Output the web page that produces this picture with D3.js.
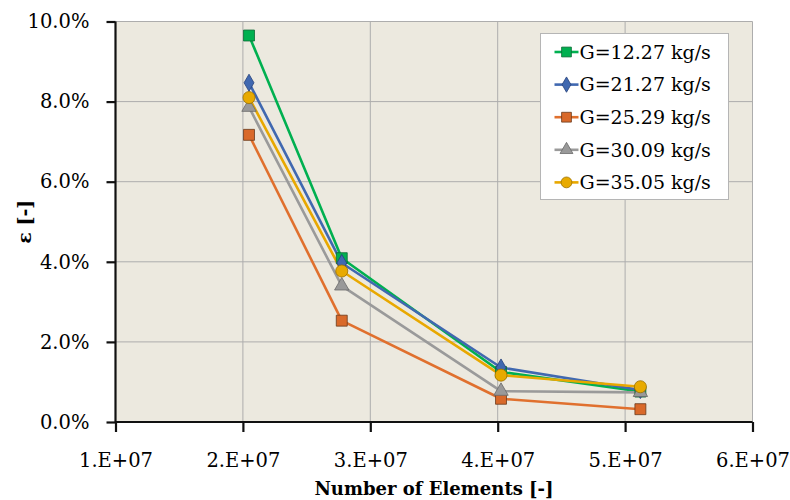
<!DOCTYPE html>
<html lang="en">
<head>
<meta charset="UTF-8">
<title>Mesh independence</title>
<script src="https://d3js.org/d3.v7.min.js"></script>
<style>
  body { margin: 0; background: #fff; }
  text { font-family: "DejaVu Serif", serif; fill: #000; }
</style>
</head>
<body>
<div id="chart"></div>
<script>
// number of mesh elements
var elements = [2.048e7, 2.776e7, 4.026e7, 5.12e7];

// series names and epsilon values (%)
var seriesNames = ["G=12.27 kg/s", "G=21.27 kg/s", "G=25.29 kg/s", "G=30.09 kg/s", "G=35.05 kg/s"];
var g1227 = [9.65, 4.09, 1.25, 0.76];
var g2127 = [8.47, 3.97, 1.36, 0.80];
var g2529 = [7.17, 2.53, 0.58, 0.32];
var g3009 = [7.86, 3.40, 0.77, 0.74];
var g3505 = [8.10, 3.77, 1.17, 0.88];

var xTicks = [1e7, 2e7, 3e7, 4e7, 5e7, 6e7];
var yTicks = [0, 2, 4, 6, 8, 10];

var styles = [
  {line: "#00B050", fill: "#00B050", stroke: "#0B6B35", shape: d3.symbolSquare, size: 120},
  {line: "#4068B0", fill: "#4068B0", stroke: "#24407A", shape: d3.symbolDiamond, size: 85},
  {line: "#E0702E", fill: "#D9692A", stroke: "#6A3A1C", shape: d3.symbolSquare, size: 120},
  {line: "#9A9A9A", fill: "#999999", stroke: "#6A6A6A", shape: d3.symbolTriangle, size: 90},
  {line: "#E8A800", fill: "#E8AA00", stroke: "#9A7000", shape: d3.symbolCircle, size: 115}
];

var allSeries = [g1227, g2127, g2529, g3009, g3505];

var W = 790, H = 500;
var margin = {top: 21.5, right: 37.5, bottom: 78, left: 115.5};
var font = "DejaVu Serif";

var svg = d3.select("#chart").append("svg")
  .attr("width", W).attr("height", H);

var x = d3.scaleLinear().domain([1e7, 6e7]).range([margin.left, W - margin.right]);
var y = d3.scaleLinear().domain([0, 10]).range([H - margin.bottom, margin.top]);

// plot background
svg.append("rect")
  .attr("x", x(1e7)).attr("y", y(10))
  .attr("width", x(6e7) - x(1e7)).attr("height", y(0) - y(10))
  .attr("fill", "#ECE9DF");

// grid
svg.append("g")
  .selectAll("line").data(xTicks.slice(1)).enter().append("line")
  .attr("x1", function(d) { return x(d); }).attr("x2", function(d) { return x(d); })
  .attr("y1", y(0)).attr("y2", y(10))
  .attr("stroke", "#ADADAD").attr("stroke-width", 1);
svg.append("g")
  .selectAll("line").data(yTicks.slice(1)).enter().append("line")
  .attr("x1", x(1e7)).attr("x2", x(6e7))
  .attr("y1", function(d) { return y(d); }).attr("y2", function(d) { return y(d); })
  .attr("stroke", "#ADADAD").attr("stroke-width", 1);

// axes
var xAxis = svg.append("g")
  .attr("transform", "translate(0," + y(0) + ")")
  .call(d3.axisBottom(x).tickValues(xTicks).tickSize(10).tickPadding(21)
    .tickFormat(function(d) { return (d / 1e7) + ".E+07"; }));
var yAxis = svg.append("g")
  .attr("transform", "translate(" + x(1e7) + ",0)")
  .call(d3.axisLeft(y).tickValues(yTicks).tickSize(9).tickPadding(17)
    .tickFormat(function(d) { return d.toFixed(1) + "%"; }));

[xAxis, yAxis].forEach(function(a) {
  a.select(".domain").attr("stroke", "#111").attr("stroke-width", 2.2);
  a.selectAll(".tick line").attr("stroke", "#111").attr("stroke-width", 2.2);
  a.selectAll(".tick text")
    .style("font-family", font)
    .style("font-size", "19.5px").attr("fill", "#000");
});
xAxis.select(".domain").attr("d", "M" + x(1e7) + ",0H" + x(6e7));
yAxis.select(".domain").attr("d", "M0," + y(0) + "V" + y(10));

// lines and markers
var line = d3.line()
  .x(function(d, i) { return x(elements[i]); })
  .y(function(d) { return y(d); });

allSeries.forEach(function(vals, k) {
  var s = styles[k];
  svg.append("path")
    .datum(vals)
    .attr("d", line)
    .attr("fill", "none")
    .attr("stroke", s.line)
    .attr("stroke-width", 2.6)
    .attr("stroke-linejoin", "round");
});
allSeries.forEach(function(vals, k) {
  var s = styles[k];
  svg.append("g").selectAll("path").data(vals).enter().append("path")
    .attr("d", d3.symbol().type(s.shape).size(s.size))
    .attr("transform", function(d, i) { return "translate(" + x(elements[i]) + "," + y(d) + ")"; })
    .attr("fill", s.fill)
    .attr("stroke", s.stroke)
    .attr("stroke-width", 0.8);
});

// legend
var lg = svg.append("g").attr("transform", "translate(540.5,33.5)");
lg.append("rect")
  .attr("width", 188).attr("height", 166)
  .attr("fill", "#fff").attr("stroke", "#B5B5B5").attr("stroke-width", 1);
seriesNames.forEach(function(name, k) {
  var s = styles[k];
  var cy = 18.5 + k * 32.6;
  var row = lg.append("g").attr("transform", "translate(0," + cy + ")");
  row.append("line").attr("x1", 14).attr("x2", 38).attr("y1", 0).attr("y2", 0)
    .attr("stroke", s.line).attr("stroke-width", 2.6);
  row.append("path")
    .attr("d", d3.symbol().type(s.shape).size(s.size * 0.8))
    .attr("transform", "translate(26,0)")
    .attr("fill", s.fill).attr("stroke", s.stroke).attr("stroke-width", 0.8);
  row.append("text").attr("x", 39).attr("y", 0).attr("dy", "0.36em")
    .style("font-size", "19px").text(name);
});

// axis titles
svg.append("text")
  .attr("x", (x(1e7) + x(6e7)) / 2).attr("y", 495)
  .attr("text-anchor", "middle")
  .style("font-size", "18px").style("font-weight", "bold")
  .text("Number of Elements [-]");
svg.append("text")
  .attr("transform", "translate(31," + y(5.0) + ") rotate(-90)")
  .attr("text-anchor", "middle")
  .style("font-size", "19px").style("font-weight", "bold")
  .text("ε [-]");
</script>
</body>
</html>
